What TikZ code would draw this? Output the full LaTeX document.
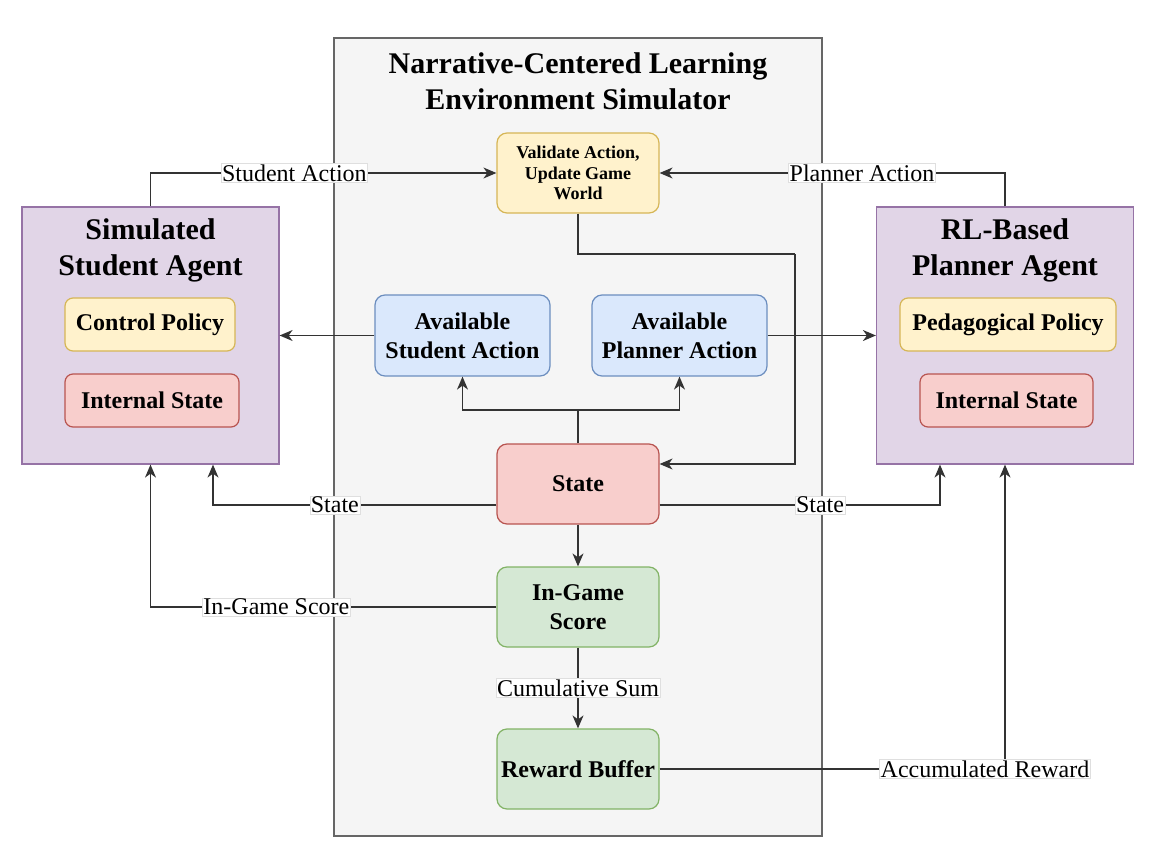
\documentclass[tikz,border=0pt]{standalone}
\usepackage{fontspec}
\setmainfont{Liberation Serif}
\usetikzlibrary{arrows.meta}

\definecolor{yelF}{HTML}{FFF2CC}
\definecolor{yelD}{HTML}{D6B656}
\definecolor{redF}{HTML}{F8CECC}
\definecolor{redD}{HTML}{B85450}
\definecolor{bluF}{HTML}{DAE8FC}
\definecolor{bluD}{HTML}{6C8EBF}
\definecolor{grnF}{HTML}{D5E8D4}
\definecolor{grnD}{HTML}{82B366}
\definecolor{purF}{HTML}{E1D5E7}
\definecolor{purD}{HTML}{9673A6}
\definecolor{simF}{HTML}{F5F5F5}
\definecolor{simD}{HTML}{666666}

\tikzset{
  box/.style={draw, rounded corners=10pt, line width=1.2pt, minimum width=162pt,
    minimum height=80pt, align=center, font=\fontsize{24}{29}\selectfont\bfseries},
  small/.style={box, rounded corners=8pt, minimum height=53pt},
  agent/.style={draw=purD, fill=purF, line width=1.2pt, minimum width=257pt, minimum height=257pt},
  big/.style={align=center, font=\fontsize{30}{36}\selectfont\bfseries},
  link/.style={draw=black!80, line width=1.3pt},
  arr/.style={link, -{Stealth[length=13pt,width=11pt,inset=4pt]}},
  lbl/.style={fill=white, draw=gray!25, line width=0.6pt, inner sep=1pt, font=\fontsize{24}{29}\selectfont}
}

\begin{document}
\begin{tikzpicture}[x=1pt,y=-1pt]
	\useasboundingbox (0,0) rectangle (1160,862);
	
	\draw[fill=simF, draw=simD, line width=1.2pt] (334,38) rectangle (822,836);
	\node[big] (simtitle) at (578,81) {Narrative-Centered Learning\\Environment Simulator};
	
	\node[box, fill=yelF, draw=yelD, font=\fontsize{18}{20.5}\selectfont\bfseries] (val) at (578,173) {Validate Action,\\Update Game\\World};
	\node[box, fill=bluF, draw=bluD, minimum width=175pt, minimum height=81pt] (avs) at (462.5,335.5) {Available\\Student Action};
	\node[box, fill=bluF, draw=bluD, minimum width=175pt, minimum height=81pt] (avp) at (679.5,335.5) {Available\\Planner Action};
	\node[box, fill=redF, draw=redD] (sta) at (578,484) {State};
	\node[box, fill=grnF, draw=grnD] (sco) at (578,607) {In-Game\\Score};
	\node[box, fill=grnF, draw=grnD] (rew) at (578,769) {Reward Buffer};
	
	\node[agent] (stu) at (150.5,335.5) {};
	\node[big] (stutitle) at (150.5,250.5) {Simulated\\Student Agent};
	\node[small, fill=yelF, draw=yelD, minimum width=170pt] (ctl) at (150,324.5) {Control Policy};
	\node[small, fill=redF, draw=redD, minimum width=174pt] (stuint) at (152,400.5) {Internal State};
	
	\node[agent] (pla) at (1005,335.5) {};
	\node[big] (platitle) at (1005,250.5) {RL-Based\\Planner Agent};
	\node[small, fill=yelF, draw=yelD, minimum width=216pt] (ped) at (1008,324.5) {Pedagogical Policy};
	\node[small, fill=redF, draw=redD, minimum width=173pt] (plaint) at (1006.5,400.5) {Internal State};
	
	\coordinate (bend) at (795,254);
	\coordinate (split) at (578,410);
	
	\draw[arr] (stu.north) |- node[lbl, pos=0.708] {Student Action} (val.west);
	\draw[arr] (pla.north) |- node[lbl, pos=0.707] {Planner Action} (val.east);
	\draw[link] (val.south) |- (bend);
	\draw[arr] (bend) |- ([yshift=20pt]sta.east);
	\draw[arr] (avs.west) -- (stu.east);
	\draw[arr] (avp.east) -- (pla.west);
	\draw[link] (sta.north) -- (split);
	\draw[arr] (split) -| (avs.south);
	\draw[arr] (split) -| (avp.south);
	\draw[arr] ([yshift=-21pt]sta.west) -| node[lbl, pos=0.285] {State} ([xshift=62.5pt]stu.south);
	\draw[arr] ([yshift=-21pt]sta.east) -| node[lbl, pos=0.286] {State} ([xshift=-65pt]pla.south);
	\draw[arr] (sta.south) -- (sco.north);
	\draw[arr] (sco.west) -| node[lbl, pos=0.318] {In-Game Score} (stu.south);
	\draw[arr] (sco.south) -- node[lbl] {Cumulative Sum} (rew.north);
	\draw[arr] (rew.east) -| node[lbl, pos=0.471] {Accumulated Reward} (pla.south);
\end{tikzpicture}
\end{document}
